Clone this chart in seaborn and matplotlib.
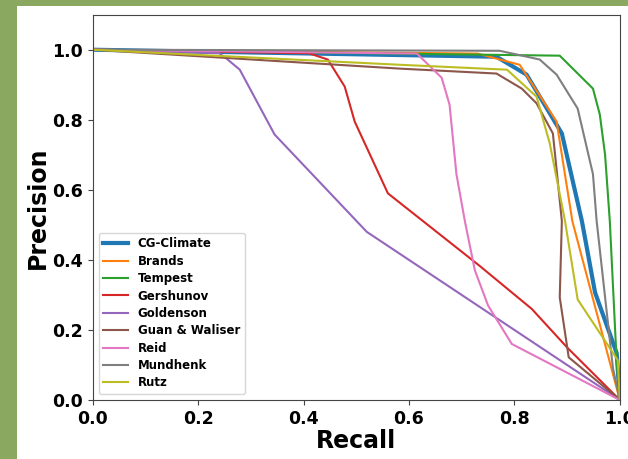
import seaborn as sns
import matplotlib.pyplot as plt
import matplotlib.patches as mpatches

names = ["CG-Climate", "Brands", "Tempest", "Gershunov", "Goldenson",
         "Guan & Waliser", "Reid", "Mundhenk", "Rutz"]

cg_r = [0.0, 0.766, 0.823, 0.89, 0.928, 0.953, 0.994, 1.0]
cg_p = [1.0, 0.98, 0.929, 0.761, 0.511, 0.307, 0.134, 0.0]

brands_r = [0.0, 0.73, 0.81, 0.88, 0.91, 1.0]
brands_p = [1.0, 0.989, 0.957, 0.795, 0.51, 0.0]

tempest_r = [0.0, 0.886, 0.949, 0.962, 0.972, 0.981, 0.994, 1.0]
tempest_p = [1.0, 0.983, 0.889, 0.815, 0.70, 0.51, 0.11, 0.0]

gersh_r = [0.0, 0.41, 0.446, 0.478, 0.497, 0.56, 0.734, 0.833, 0.90, 1.0]
gersh_p = [1.0, 0.99, 0.972, 0.895, 0.795, 0.59, 0.383, 0.26, 0.15, 0.0]

golden_r = [0.0, 0.24, 0.256, 0.279, 0.345, 0.52, 1.0]
golden_p = [1.0, 0.99, 0.972, 0.943, 0.758, 0.48, 0.0]

guan_r = [0.0, 0.583, 0.766, 0.814, 0.842, 0.873, 0.89, 0.886, 0.903, 1.0]
guan_p = [1.0, 0.946, 0.932, 0.889, 0.847, 0.761, 0.511, 0.293, 0.122, 0.0]

reid_r = [0.0, 0.615, 0.662, 0.677, 0.69, 0.706, 0.725, 0.75, 0.795, 1.0]
reid_p = [1.0, 0.989, 0.92, 0.843, 0.645, 0.511, 0.37, 0.27, 0.16, 0.0]

mund_r = [0.0, 0.772, 0.848, 0.88, 0.92, 0.949, 0.956, 0.987, 1.0]
mund_p = [1.0, 0.997, 0.972, 0.929, 0.832, 0.645, 0.511, 0.09, 0.0]

rutz_r = [0.0, 0.583, 0.786, 0.842, 0.867, 0.896, 0.92, 0.996, 1.0]
rutz_p = [1.0, 0.957, 0.943, 0.866, 0.733, 0.511, 0.287, 0.114, 0.0]

series = [(cg_r, cg_p), (brands_r, brands_p), (tempest_r, tempest_p),
          (gersh_r, gersh_p), (golden_r, golden_p), (guan_r, guan_p),
          (reid_r, reid_p), (mund_r, mund_p), (rutz_r, rutz_p)]

colors = sns.color_palette("tab10", 9)

fig = plt.figure(figsize=(6.28, 4.59), dpi=100, facecolor="#8aa860")
bg = mpatches.Rectangle((17 / 628, 0), 1, 1 - 6 / 459,
                        transform=fig.transFigure,
                        facecolor="white", edgecolor="none", zorder=-10)
fig.add_artist(bg)
ax = fig.add_axes([0.1476, 0.1285, 0.987 - 0.1476, 0.968 - 0.1285])

for i, (name, (r, p)) in enumerate(zip(names, series)):
    lw = 3 if i == 0 else 1.5
    sns.lineplot(x=r, y=p, sort=False, estimator=None, ax=ax, label=name,
                 color=colors[i], linewidth=lw)

ax.set_xlim(0, 1)
ax.set_ylim(0, 1.1)
ax.set_xticks([0, 0.2, 0.4, 0.6, 0.8, 1.0])
ax.set_yticks([0, 0.2, 0.4, 0.6, 0.8, 1.0])
ax.set_xlabel("Recall", fontsize=17, fontweight="bold", labelpad=1)
ax.set_ylabel("Precision", fontsize=17, fontweight="bold", labelpad=2)
for lab in ax.get_xticklabels() + ax.get_yticklabels():
    lab.set_fontsize(12.5)
    lab.set_fontweight("bold")
for s in ax.spines.values():
    s.set_color("#444444")
ax.tick_params(color="#444444")

leg = ax.legend(loc="lower left", prop={"weight": "bold", "size": 8.5},
                handlelength=2.1, labelspacing=0.37)

fig.savefig("out.png", dpi=100, facecolor=fig.get_facecolor())
